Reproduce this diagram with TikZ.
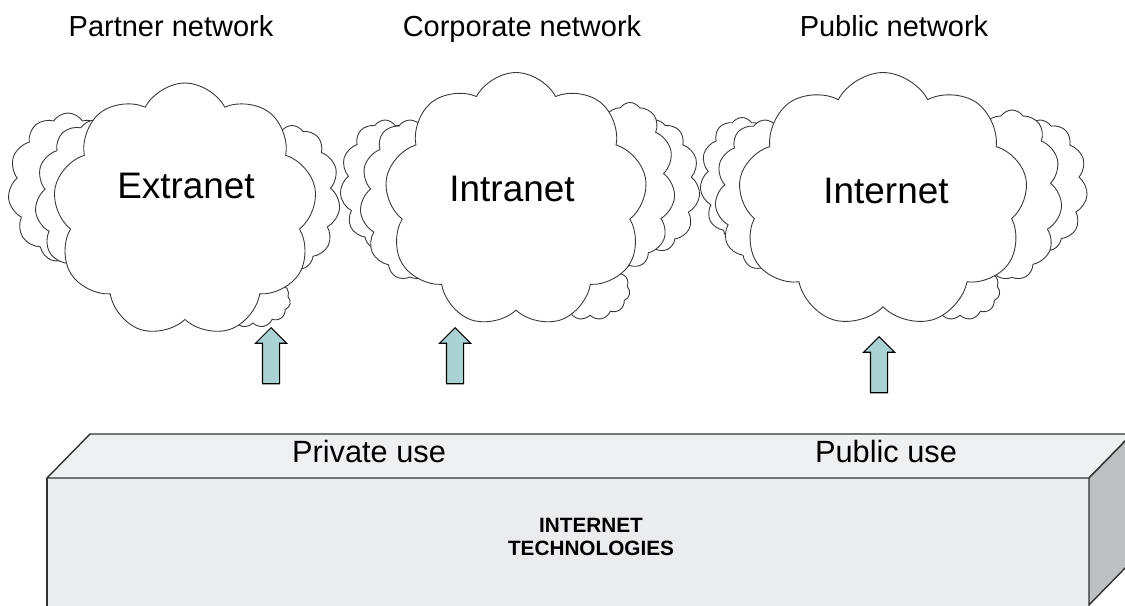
\documentclass[tikz,border=0pt]{standalone}
\usepackage{fontspec}
\setmainfont{Liberation Sans}
\usepackage{xcolor}
\definecolor{CloudLine}{RGB}{55,55,55}
\definecolor{ArrowFill}{RGB}{170,210,212}
\definecolor{BoxTop}{RGB}{239,240,242}
\definecolor{BoxFront}{RGB}{235,236,238}
\definecolor{BoxSide}{RGB}{190,191,194}
\definecolor{BoxLine}{RGB}{50,50,50}
\usepackage{tikz}
\usetikzlibrary{
  positioning,
  shapes.symbols,
  shapes.arrows
}
\tikzset{
  % Main network cloud
  netcloud/.style={
    cloud,
    cloud puffs=9,
    cloud puff arc=125,
    cloud ignores aspect,
    draw=CloudLine,
    fill=white,
    line width=0.5pt,
    inner sep=0pt
  },
  % Smaller cloud behind the main one
  bgcloud/.style={
    cloud,
    cloud puffs=11,
    cloud puff arc=115,
    cloud ignores aspect,
    draw=CloudLine,
    fill=white,
    line width=0.5pt,
    inner sep=0pt
  },
  % Block arrow pointing up
  uparrow/.style={
    single arrow,
    rotate=90,
    draw=black,
    fill=ArrowFill,
    line width=0.6pt,
    minimum height=1.12cm,
    inner sep=0.16cm,
    single arrow head extend=0.14cm
  },
  % Network kind above a cloud
  nlabel/.style={
    font=\fontsize{16.5}{20}\selectfont,
    anchor=base,
    inner sep=0pt
  },
  % Name inside a cloud
  clabel/.style={
    font=\fontsize{21}{25}\selectfont,
    anchor=base,
    inner sep=0pt
  },
  % Use label on top of the box
  ulabel/.style={
    font=\fontsize{17.5}{21}\selectfont,
    anchor=base,
    inner sep=0pt
  },
  % Box caption
  tlabel/.style={
    font=\fontsize{11.8}{13.6}\selectfont\bfseries,
    align=center,
    inner sep=0pt
  }
}

\begin{document}
\begin{tikzpicture}[x=0.02cm, y=-0.02cm]
  \useasboundingbox (0,0) rectangle (1125,605);
  \clip (0,0) rectangle (1125,605);

  % Clouds in the background
  \node[bgcloud, minimum width=2.4cm, minimum height=3.0cm] (exleft)  at (68,188)  {};
  \node[bgcloud, minimum width=2.4cm, minimum height=3.2cm] (exleftb) at (95,200)  {};
  \node[bgcloud, minimum width=1.92cm, minimum height=2.9cm] (exright) at (292,198) {};
  \node[bgcloud, minimum width=1.5cm, minimum height=1.1cm] (exbot)   at (253,300) {};

  \node[bgcloud, minimum width=1.8cm, minimum height=2.6cm] (inleft)  at (385,185) {};
  \node[bgcloud, minimum width=2.0cm, minimum height=3.2cm] (inleftb) at (410,200) {};
  \node[bgcloud, minimum width=1.8cm, minimum height=2.64cm] (inright) at (655,186) {};
  \node[bgcloud, minimum width=1.8cm, minimum height=3.3cm] (inrightb) at (630,185) {};
  \node[bgcloud, minimum width=1.6cm, minimum height=1.2cm] (inbot)   at (590,290) {};

  \node[bgcloud, minimum width=1.68cm, minimum height=2.5cm] (ntleft)  at (742,180) {};
  \node[bgcloud, minimum width=2.0cm, minimum height=3.0cm] (ntleftb) at (765,195) {};
  \node[bgcloud, minimum width=1.9cm, minimum height=2.64cm] (ntright) at (1040,186) {};
  \node[bgcloud, minimum width=2.0cm, minimum height=3.4cm] (ntrightb) at (1012,195) {};
  \node[bgcloud, minimum width=1.6cm, minimum height=1.2cm] (ntbot)   at (960,290) {};

  % Main clouds
  \node[netcloud, minimum width=5.28cm, minimum height=5.08cm] (extranet) at (185,210) {};
  \node[netcloud, minimum width=5.26cm, minimum height=5.1cm]  (intranet) at (516,200) {};
  \node[netcloud, minimum width=5.8cm,  minimum height=5.1cm]  (internet) at (883,200) {};

  \node[clabel] (extext) at (186,198) {Extranet};
  \node[clabel] (intext) at (512,201) {Intranet};
  \node[clabel] (nttext) at (886,203) {Internet};

  % Network kinds
  \node[nlabel] (partner)   at (171,36) {Partner network};
  \node[nlabel] (corporate) at (522,36) {Corporate network};
  \node[nlabel] (public)    at (894,36) {Public network};

  % The box
  \coordinate (fl) at (47,478);
  \coordinate (fr) at (1089,478);
  \coordinate (bl) at (90,434);
  \coordinate (br) at (1132,434);
  \fill[BoxFront] (fl) rectangle (1089,610);
  \draw[BoxLine, line width=0.8pt] (fl) -- (47,610);
  \filldraw[fill=BoxTop, draw=BoxLine, line width=0.8pt] (fl) -- (bl) -- (br) -- (fr) -- cycle;
  \filldraw[fill=BoxSide, draw=BoxLine, line width=0.8pt] (fr) -- (br) -- (1132,561) -- (1089,605) -- cycle;

  \node[ulabel] (private) at (369,462) {Private use};
  \node[ulabel] (publicuse) at (886,462) {Public use};
  \node[tlabel] (tech) at (591,537) {INTERNET\\TECHNOLOGIES};

  % Arrows
  \node[uparrow] (up1) at (271,360) {};
  \node[uparrow] (up2) at (455,360) {};
  \node[uparrow] (up3) at (879,369) {};
\end{tikzpicture}
\end{document}
